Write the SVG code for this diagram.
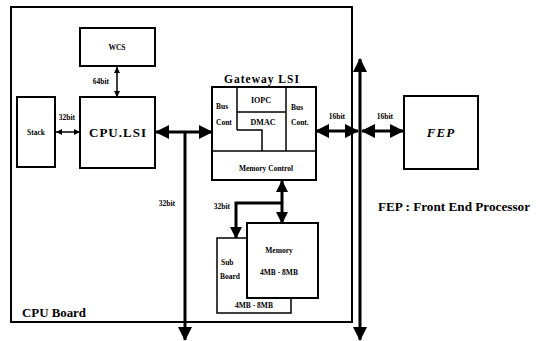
<svg xmlns="http://www.w3.org/2000/svg" width="537" height="341" viewBox="0 0 537 341">
<defs>
<style>
.box{fill:#fff;stroke:#000;stroke-width:2}
.thin{fill:none;stroke:#000;stroke-width:1.5}
.bus{fill:none;stroke:#000;stroke-width:3}
.sig{fill:none;stroke:#000;stroke-width:1.5}
text{font-family:"Liberation Serif","DejaVu Serif",serif;font-weight:bold;fill:#000}
.s{font-size:7.5px}
.m{font-size:8px}
.c{text-anchor:middle}
</style>
<marker id="big" viewBox="0 0 14 14" refX="13" refY="7" markerWidth="14" markerHeight="14" markerUnits="userSpaceOnUse" orient="auto-start-reverse"><path d="M0,0 L14,7 L0,14 z" fill="#000"/></marker>
<marker id="mid" viewBox="0 0 12 12" refX="11" refY="6" markerWidth="12" markerHeight="12" markerUnits="userSpaceOnUse" orient="auto-start-reverse"><path d="M0,0 L12,6 L0,12 z" fill="#000"/></marker>
<marker id="sm" viewBox="0 0 6 6" refX="6" refY="3" markerWidth="6" markerHeight="6" markerUnits="userSpaceOnUse" orient="auto-start-reverse"><path d="M0,0 L6,3 L0,6 z" fill="#000"/></marker>
<marker id="tiny" viewBox="0 0 4 4" refX="4" refY="2" markerWidth="4" markerHeight="4" markerUnits="userSpaceOnUse" orient="auto-start-reverse"><path d="M0,0 L4,2 L0,4 z" fill="#000"/></marker>
</defs>
<rect width="537" height="341" fill="#fff"/>

<g id="cpu-board">
<rect x="11" y="7" width="341" height="315" fill="none" stroke="#000" stroke-width="2"/>
<text x="22" y="317" style="font-size:12px" textLength="64" lengthAdjust="spacingAndGlyphs">CPU Board</text>
</g>

<g id="connectors">
<line class="sig" x1="117" y1="67" x2="117" y2="97" marker-start="url(#sm)" marker-end="url(#sm)"/>
<line class="sig" x1="56" y1="132" x2="80" y2="132" marker-start="url(#sm)" marker-end="url(#sm)"/>
<line class="bus" x1="156" y1="132" x2="212" y2="132" marker-start="url(#big)" marker-end="url(#big)"/>
<line class="bus" x1="185" y1="132" x2="185" y2="340" marker-end="url(#big)"/>
<line class="bus" x1="360" y1="59" x2="360" y2="340" marker-start="url(#big)" marker-end="url(#big)"/>
<line class="bus" x1="316" y1="131" x2="358" y2="131" marker-start="url(#big)" marker-end="url(#big)"/>
<line class="bus" x1="362" y1="131" x2="403" y2="131" marker-start="url(#big)" marker-end="url(#big)"/>
<line class="bus" x1="282" y1="181" x2="282" y2="223" marker-start="url(#mid)" marker-end="url(#mid)"/>
<polyline class="bus" points="282,203 236,203 236,238" marker-end="url(#mid)"/>
<line class="sig" x1="238" y1="146" x2="238" y2="156" marker-start="url(#tiny)" marker-end="url(#tiny)"/>
<line class="sig" x1="271" y1="146" x2="271" y2="156" marker-start="url(#tiny)" marker-end="url(#tiny)"/>
<text class="s" x="101" y="84" text-anchor="middle">64bit</text>
<text class="s" x="67" y="120" text-anchor="middle">32bit</text>
<text class="s" x="337" y="119" text-anchor="middle">16bit</text>
<text class="s" x="385" y="119" text-anchor="middle">16bit</text>
<text class="s" x="167" y="206" text-anchor="middle">32bit</text>
<text class="s" x="222" y="209" text-anchor="middle">32bit</text>
</g>

<g id="wcs">
<rect class="box" x="80" y="28" width="75" height="38"/>
<text class="s c" x="117" y="50">WCS</text>
</g>

<g id="stack">
<rect class="box" x="17" y="97" width="38" height="70"/>
<text class="s c" x="36" y="135">Stack</text>
</g>

<g id="cpu-lsi">
<rect class="box" x="80" y="97" width="75" height="71"/>
<text class="c" x="118" y="137" style="font-size:13px;letter-spacing:1px">CPU.LSI</text>
</g>

<g id="gateway-lsi">
<text class="c" x="262" y="83" style="font-size:11.5px;letter-spacing:1px">Gateway  LSI</text>
<rect class="box" x="212" y="87" width="104" height="93"/>
<line class="thin" x1="237" y1="87" x2="237" y2="130"/>
<line class="thin" x1="237" y1="112" x2="286" y2="112"/>
<polyline class="thin" points="237,130 262,130 262,151"/>
<line class="thin" x1="286" y1="87" x2="286" y2="151"/>
<line class="thin" x1="212" y1="151" x2="316" y2="151"/>
<text class="s" x="216" y="109">Bus</text>
<text class="s" x="216" y="125">Cont</text>
<text class="m c" x="261" y="103">IOPC</text>
<text class="m c" x="263" y="125">DMAC</text>
<text class="s" x="291" y="110">Bus</text>
<text class="s" x="291" y="125">Cont.</text>
<text class="s c" x="266" y="171">Memory Control</text>
</g>

<g id="sub-board">
<rect x="217" y="238" width="74" height="75" fill="#fff" stroke="#000" stroke-width="1.5"/>
<text class="s" x="221" y="265">Sub</text>
<text class="s" x="220" y="279">Board</text>
<text class="s c" x="254" y="308">4MB - 8MB</text>
</g>

<g id="memory">
<rect class="box" x="247" y="223" width="71" height="75"/>
<text class="s c" x="279" y="253">Memory</text>
<text class="s c" x="279" y="275">4MB - 8MB</text>
</g>

<g id="fep">
<rect class="box" x="404" y="96" width="74" height="73"/>
<text class="c" x="441" y="137" style="font-size:13px;font-style:italic;letter-spacing:1px">FEP</text>
</g>

<g id="legend">
<text x="378" y="211" style="font-size:12px" textLength="152" lengthAdjust="spacingAndGlyphs">FEP : Front End Processor</text>
</g>
</svg>
